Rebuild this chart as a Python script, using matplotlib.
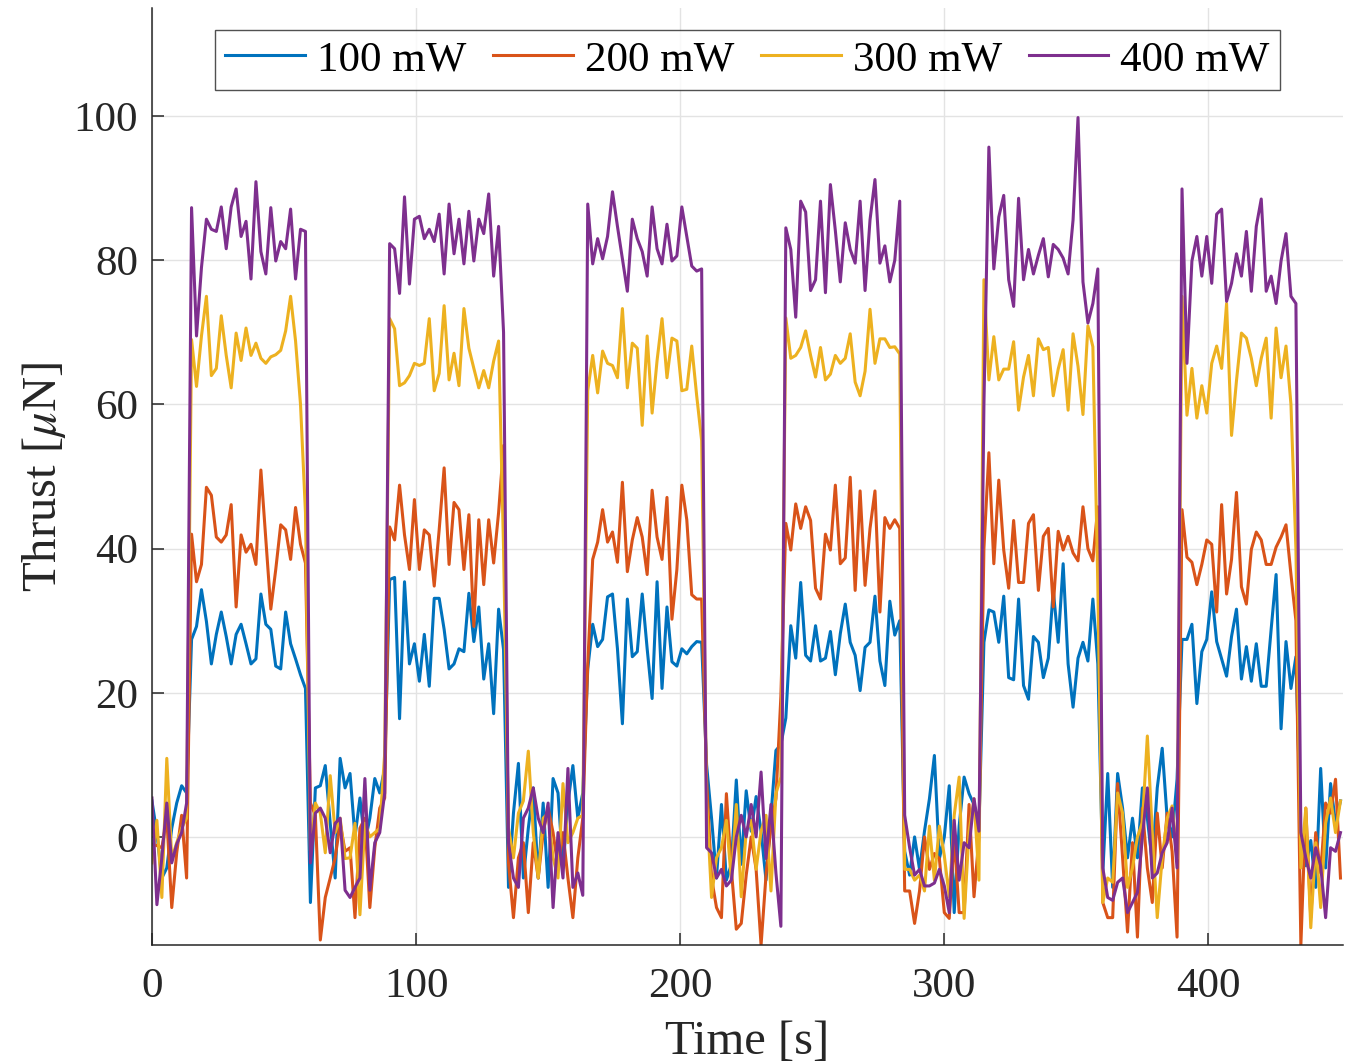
import numpy as np
import matplotlib
matplotlib.use("Agg")
import matplotlib.pyplot as plt

plt.rcParams['font.family'] = ['Liberation Serif', 'DejaVu Serif']
plt.rcParams['mathtext.fontset'] = 'stix'

# sampling: 241 points, 0..450 s
time_s = np.linspace(0, 450, 241)

labels = ["100 mW", "200 mW", "300 mW", "400 mW"]
colors = ["#0072BD", "#D95319", "#EDB120", "#7E2F8E"]

thrust_100 = [
    5.0, 0.5, -5.7, -4.3, 1.2, 4.7, 7.1, 6.1,
    27.4, 29.2, 34.3, 29.9, 24.0, 28.1, 31.2, 27.8, 24.0, 28.1, 29.5, 26.8, 24.0, 24.7, 33.7, 29.5,
    28.8, 23.7, 23.3, 31.2, 26.8, 24.7, 22.5, 20.6,
    -9.1, 6.8, 7.1, 9.9, 1.9, -5.7, 10.9, 6.8, 8.8, 0.0, 5.4, -0.8, 2.6, 8.1, 6.1, 9.5,
    35.7, 36.0, 16.4, 35.4, 24.0, 26.8, 21.6, 28.1, 20.9, 33.1, 33.1, 28.8, 23.3, 24.0, 26.1, 25.7,
    33.8, 27.1, 31.9, 21.9, 26.8, 17.1, 31.6, 26.0,
    -7.0, 3.3, 10.2, -5.7, 1.2, 6.8, -5.7, 4.7, -7.0, 8.1, 6.1, -4.3, 4.7, 9.9, 2.6, 6.1,
    23.3, 29.5, 26.4, 27.4, 33.3, 33.7, 26.1, 15.7, 33.0, 25.0, 25.7, 33.7, 26.1, 19.2, 35.4, 20.6,
    31.9, 24.3, 23.7, 26.1, 25.4, 26.4, 27.1, 27.0,
    10.0, 2.6, -5.7, 4.5, -6.0, -3.8, 7.9, -3.8, 6.4, 0.8, 5.6, 0.8, -6.0, 3.0, 12.0, 12.8,
    16.5, 29.3, 24.8, 35.3, 25.2, 24.4, 29.3, 24.4, 24.8, 28.5, 22.5, 28.2, 32.3, 27.0, 25.2, 20.3,
    26.3, 27.0, 33.4, 24.4, 21.0, 32.7, 28.0, 30.0,
    -2.0, -5.3, 0.0, -4.5, 0.8, 5.3, 11.3, -3.0, 0.0, 7.1, -10.5, 1.5, 8.3, 6.0, 4.5, 1.5,
    27.0, 31.5, 31.2, 27.0, 33.4, 22.1, 21.8, 33.0, 21.0, 19.1, 27.8, 27.0, 22.1, 24.8, 34.2, 27.0,
    37.9, 24.0, 18.0, 24.8, 27.0, 24.4, 33.0, 24.0,
    -5.0, 8.8, -7.0, 8.8, 4.0, -2.9, 2.6, -2.9, 6.8, 2.6, -3.6, 6.8, 12.3, 2.6, 0.0, 8.0,
    27.4, 27.4, 29.5, 18.5, 25.7, 27.4, 34.0, 27.1, 24.7, 22.3, 27.8, 31.6, 21.9, 26.4, 21.6, 26.8,
    20.9, 20.9, 28.8, 36.4, 15.0, 27.1, 20.6, 25.0,
    0.0, -4.0, -0.5, -7.0, 9.5, -4.3, 7.4, 1.9, 5.0,
]

thrust_200 = [
    -1.0, -1.2, -1.5, 2.6, -9.8, -2.2, 3.0, -5.7,
    42.0, 35.4, 37.8, 48.5, 47.4, 41.6, 40.9, 41.9, 46.1, 31.9, 41.9, 39.5, 40.6, 37.8, 50.9, 41.2,
    31.6, 37.1, 43.3, 42.6, 38.5, 45.7, 40.6, 38.0,
    4.7, 3.0, -14.3, -8.4, -5.7, -2.9, 1.9, -2.0, -1.5, -11.2, 1.2, 2.6, -9.8, -1.5, 4.0, 5.4,
    43.0, 41.2, 48.8, 41.9, 37.1, 46.8, 37.1, 42.6, 41.9, 34.8, 42.6, 51.2, 37.8, 46.4, 45.4, 37.1,
    44.7, 29.2, 44.0, 35.0, 44.0, 38.0, 45.0, 54.3,
    -3.6, -11.2, -2.9, -0.8, -10.5, -0.8, -5.7, 0.6, 4.0, 0.6, -4.3, 0.6, -5.7, -11.2, -2.9, 2.6,
    24.0, 38.5, 40.9, 45.4, 40.9, 42.3, 38.1, 49.2, 36.8, 41.2, 44.3, 41.6, 36.4, 48.1, 41.6, 38.5,
    47.1, 30.2, 37.1, 48.8, 44.0, 33.6, 33.0, 33.0,
    8.0, -5.7, -9.8, -11.2, 6.0, -4.5, -12.8, -12.0, -5.3, 0.0, -4.5, -15.0, -5.3, 1.5, 5.3, 19.5,
    43.5, 39.8, 46.2, 42.8, 45.8, 43.9, 34.5, 33.0, 42.0, 39.8, 48.8, 37.9, 38.7, 49.9, 34.2, 48.0,
    34.9, 42.8, 48.0, 31.2, 44.3, 42.8, 44.0, 42.8,
    -7.5, -7.5, -12.0, -7.5, 0.0, -4.5, -2.3, -3.0, -10.5, -11.3, 0.0, -10.5, -10.5, 4.5, -8.3, 0.0,
    40.0, 53.3, 37.9, 49.5, 39.8, 34.5, 43.9, 35.3, 35.3, 43.5, 44.7, 34.2, 41.7, 42.8, 31.9, 42.4,
    39.8, 41.7, 39.4, 38.3, 45.8, 40.0, 38.3, 45.8,
    -9.1, -11.2, -11.2, 7.4, -2.9, -13.2, -0.8, -13.9, 4.0, -4.3, -9.1, 3.3, -4.3, 3.3, -2.0, -13.9,
    45.4, 38.8, 38.1, 35.0, 37.8, 41.2, 40.6, 31.2, 46.1, 33.7, 38.5, 47.8, 34.7, 32.3, 39.9, 42.3,
    41.2, 37.8, 37.8, 40.2, 41.6, 43.3, 36.4, 30.0,
    -15.0, 4.0, -11.2, 0.6, -5.0, 4.7, 3.3, 8.0, -5.7,
]

thrust_300 = [
    -3.6, 2.3, -8.4, 10.9, -3.0, -0.8, 1.2, 2.6,
    69.0, 62.5, 69.5, 75.0, 64.0, 65.0, 72.3, 66.8, 62.3, 69.9, 66.1, 70.6, 66.8, 68.5, 66.4, 65.7,
    66.6, 66.9, 67.5, 70.2, 75.0, 68.8, 60.0, 45.0,
    -1.9, 4.7, 3.3, -2.2, 8.5, 0.6, 2.6, -3.0, -2.9, 1.9, -10.8, 1.9, 0.0, 0.6, 1.2, 11.6,
    71.9, 70.5, 62.6, 63.0, 64.0, 65.7, 65.4, 65.7, 71.9, 61.9, 64.3, 73.7, 63.4, 67.1, 62.6, 73.3,
    67.8, 65.0, 62.3, 64.7, 62.3, 66.0, 68.8, 40.0,
    1.2, -2.9, 3.3, 5.0, 11.9, 0.6, -5.7, 2.6, 3.3, -2.9, -5.7, 7.4, -0.8, 0.6, 2.6, 3.0,
    61.9, 66.8, 61.6, 67.4, 65.7, 65.4, 63.7, 73.3, 62.3, 68.5, 67.8, 57.1, 69.5, 58.8, 66.1, 71.9,
    63.7, 69.2, 68.8, 61.9, 62.1, 68.1, 61.2, 55.0,
    5.0, -8.4, -2.9, -1.5, 2.3, -6.0, 4.5, -8.3, 0.8, 2.3, -4.5, 0.8, 3.0, -7.5, 6.0, 8.3,
    72.0, 66.4, 66.8, 67.9, 70.2, 66.8, 63.8, 67.9, 63.4, 64.2, 66.8, 65.7, 66.4, 69.8, 63.1, 61.2,
    64.6, 73.2, 65.7, 69.1, 69.1, 67.9, 68.0, 67.0,
    -4.5, -4.5, -6.0, -5.3, -7.5, 1.5, -6.0, 1.5, -2.6, -8.3, 3.0, 8.3, -11.3, 0.8, 5.3, -6.0,
    77.3, 63.4, 69.4, 63.4, 64.9, 64.9, 68.7, 59.2, 63.8, 66.8, 61.2, 69.1, 67.6, 67.9, 61.2, 64.9,
    67.6, 59.2, 69.8, 65.3, 58.6, 70.9, 68.0, 35.0,
    -9.1, -5.7, -6.3, 6.1, 3.3, -7.0, -4.3, 0.0, 2.0, 14.0, 0.6, -11.2, -2.9, 2.6, 4.3, -3.0,
    75.0, 58.5, 65.0, 58.1, 62.6, 58.8, 65.7, 68.1, 65.0, 74.0, 55.7, 63.3, 69.9, 69.2, 66.4, 62.6,
    66.4, 69.2, 58.1, 70.6, 63.7, 68.1, 60.0, 40.0,
    -4.3, 4.0, -12.6, -0.8, -9.8, 1.9, 5.4, 0.6, 5.0,
]

thrust_400 = [
    5.4, -9.4, -2.9, 4.7, -3.6, -1.0, 0.6, 4.7,
    87.3, 69.5, 79.0, 85.7, 84.3, 84.0, 87.4, 81.6, 87.4, 89.9, 83.3, 85.4, 77.4, 90.9, 81.2, 78.1,
    87.3, 79.9, 82.6, 81.6, 87.1, 77.4, 84.3, 84.0,
    -3.6, 3.3, 4.0, 2.6, -2.2, 1.9, 2.6, -7.4, -8.4, -7.0, -5.7, 8.1, -7.4, -0.8, 0.6, 6.1,
    82.3, 81.6, 75.4, 88.8, 76.7, 85.7, 86.1, 83.0, 84.3, 82.6, 86.4, 78.1, 87.8, 80.9, 85.7, 79.5,
    86.8, 79.9, 85.7, 83.7, 89.2, 77.8, 84.7, 70.0,
    -0.8, -5.7, -7.0, 2.6, 4.0, 6.8, 2.6, 0.6, 4.7, -9.8, 0.6, -5.7, 9.5, -7.0, -5.0, -8.1,
    87.8, 79.5, 83.0, 80.2, 83.3, 89.5, 84.7, 80.2, 75.7, 85.7, 83.0, 81.2, 77.8, 87.4, 81.6, 79.5,
    85.0, 79.9, 80.6, 87.4, 83.3, 79.2, 78.5, 78.8,
    -1.5, -2.2, -5.7, -4.5, -6.8, -6.0, 0.0, 3.0, 0.0, 4.5, 0.0, 9.0, -3.0, 4.5, -5.0, -12.4,
    84.5, 81.5, 72.1, 88.2, 86.7, 75.8, 77.3, 88.2, 75.5, 90.5, 84.1, 77.0, 85.2, 81.5, 79.6, 88.2,
    75.8, 85.6, 91.2, 79.6, 82.0, 77.0, 80.0, 88.2,
    3.0, -1.5, -5.3, -4.5, -6.8, -6.8, -6.4, -4.5, -6.8, -10.5, 2.3, -6.0, -0.8, -1.5, 5.3, 0.8,
    60.0, 95.7, 78.8, 86.0, 89.0, 77.3, 73.6, 88.6, 77.3, 81.5, 78.1, 80.7, 83.0, 77.7, 82.2, 81.5,
    80.3, 78.1, 85.6, 99.8, 77.0, 71.3, 74.0, 78.8,
    -4.3, -8.4, -8.8, -6.3, -5.7, -10.5, -9.1, -7.7, 0.0, 6.8, -5.7, -5.0, -2.2, -0.8, 4.0, -4.3,
    89.9, 65.7, 79.9, 83.3, 77.8, 83.3, 76.8, 86.4, 87.1, 74.3, 76.8, 80.9, 77.8, 84.0, 75.7, 84.7,
    88.5, 75.7, 77.8, 74.0, 79.9, 83.7, 75.0, 74.0,
    0.6, -2.9, -5.7, -1.5, -4.0, -11.2, -1.5, -2.0, 0.6,
]

series = [thrust_100, thrust_200, thrust_300, thrust_400]

fig = plt.figure(figsize=(13.53, 10.64), dpi=100)
ax = fig.add_axes([0.1123, 0.1118, 0.8804, 0.8807])

for vals, lab, col in zip(series, labels, colors):
    ax.plot(time_s, vals, color=col, lw=2.2, label=lab)

ax.set_xlim(0, 451)
ax.set_ylim(-15, 115)
ax.set_xticks([0, 100, 200, 300, 400])
ax.set_yticks([0, 20, 40, 60, 80, 100])
ax.grid(True, color="#e3e3e3", lw=1.0)
ax.set_axisbelow(True)
for s in ["top", "right"]:
    ax.spines[s].set_visible(False)
for s in ["left", "bottom"]:
    ax.spines[s].set_color("#262626")
    ax.spines[s].set_linewidth(1.1)
ax.tick_params(direction="in", length=8.5, width=1.1, color="#262626",
               labelsize=31, labelcolor="#262626")
ax.tick_params(axis="y", pad=10)
ax.tick_params(axis="x", pad=16)

ax.set_xlabel("Time [s]", fontsize=35, color="#262626", labelpad=10)
ax.set_ylabel(r"Thrust [$\mu$N]", fontsize=35, color="#262626", labelpad=4)

leg = ax.legend(loc="upper center", bbox_to_anchor=(0.5, 0.977), ncol=4,
                fontsize=31, frameon=True, fancybox=False, edgecolor="#262626",
                handlelength=1.85, handletextpad=0.28, columnspacing=0.62,
                borderpad=0.25, borderaxespad=0)
leg.get_frame().set_linewidth(1.0)
for line in leg.get_lines():
    line.set_linewidth(2.2)

fig.savefig("out.png", dpi=100, facecolor="white")
